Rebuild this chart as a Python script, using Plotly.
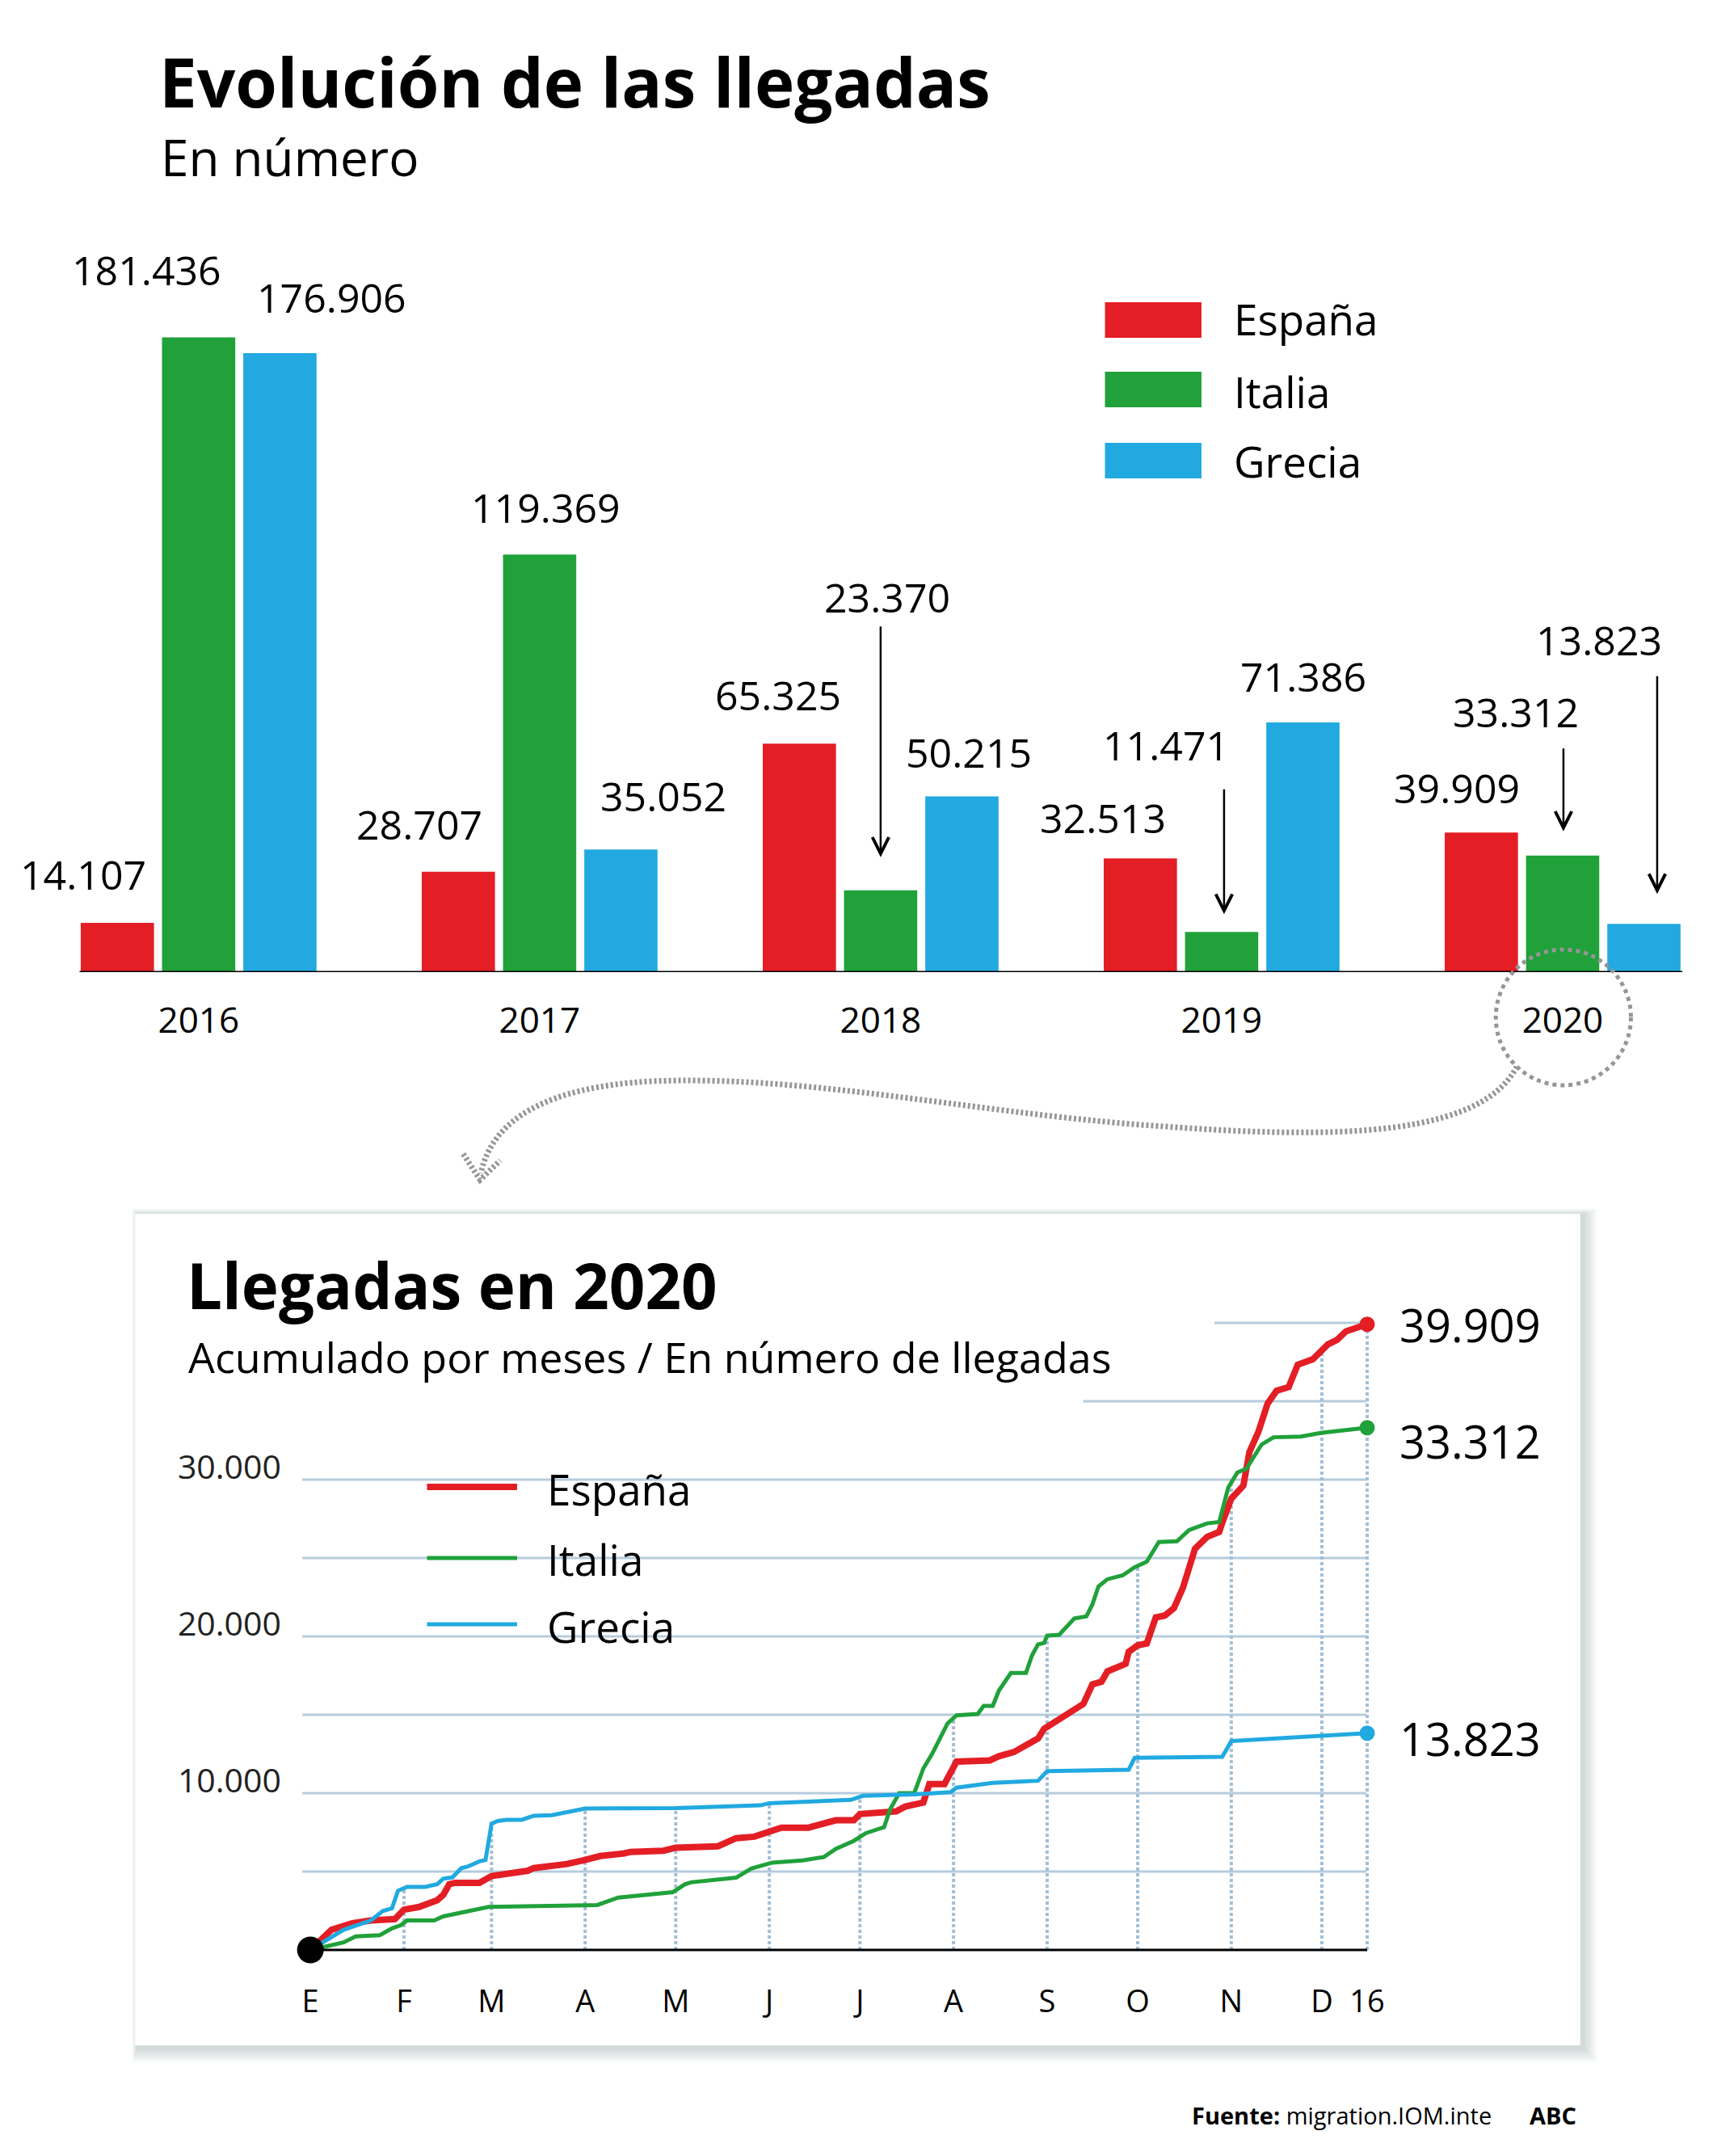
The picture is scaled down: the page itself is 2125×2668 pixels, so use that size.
import plotly.graph_objects as go
import numpy as np
import pandas as pd

W, H = 2125, 2668
FONT = "Open Sans"
ROJO, VERDE, AZUL = "#E41E25", "#20A13A", "#21A9E0"

# ---------------- DATA ----------------
anios = ['2016', '2017', '2018', '2019', '2020']
espana_anual = [14107, 28707, 65325, 32513, 39909]
italia_anual = [181436, 119369, 23370, 11471, 33312]
grecia_anual = [176906, 35052, 50215, 71386, 13823]
paises = ['España', 'Italia', 'Grecia']
colores = [ROJO, VERDE, AZUL]

espana_fechas = ['2020-01-01', '2020-01-08', '2020-01-15', '2020-01-17', '2020-01-21', '2020-01-29',
                 '2020-02-01', '2020-02-06', '2020-02-09', '2020-02-12', '2020-02-14', '2020-02-16',
                 '2020-02-18', '2020-02-26', '2020-03-01', '2020-03-13', '2020-03-15', '2020-03-26',
                 '2020-04-01', '2020-04-06', '2020-04-14', '2020-04-16', '2020-04-27', '2020-05-01',
                 '2020-05-15', '2020-05-21', '2020-05-27', '2020-06-02', '2020-06-05', '2020-06-14',
                 '2020-06-23', '2020-06-29', '2020-07-01', '2020-07-13', '2020-07-16', '2020-07-22',
                 '2020-07-24', '2020-07-29', '2020-07-31', '2020-08-02', '2020-08-13', '2020-08-16',
                 '2020-08-21', '2020-08-25', '2020-08-29', '2020-08-31', '2020-09-08', '2020-09-13',
                 '2020-09-16', '2020-09-19', '2020-09-21', '2020-09-25', '2020-09-27', '2020-09-28',
                 '2020-10-01', '2020-10-04', '2020-10-07', '2020-10-10', '2020-10-13', '2020-10-16',
                 '2020-10-20', '2020-10-24', '2020-10-28', '2020-10-29', '2020-11-01', '2020-11-05',
                 '2020-11-06', '2020-11-07', '2020-11-10', '2020-11-13', '2020-11-16', '2020-11-20',
                 '2020-11-23', '2020-11-28', '2020-12-03', '2020-12-06', '2020-12-09', '2020-12-16']
espana_valores = [0, 1280, 1710, 1800, 1880, 1970,
                  2570, 2740, 2910, 3170, 3510, 4190,
                  4280, 4280, 4710, 5050, 5220, 5480,
                  5740, 5990, 6160, 6250, 6330, 6525,
                  6610, 7130, 7220, 7660, 7800, 7800,
                  8270, 8270, 8670, 8840, 9140, 9400,
                  10580, 10580, 11310, 12010, 12090, 12350,
                  12620, 13050, 13490, 14100, 15130, 15690,
                  16940, 17110, 17770, 18130, 18250, 19010,
                  19430, 19550, 21210, 21330, 21800, 23110,
                  25600, 26350, 26660, 27250, 28790, 29620,
                  30810, 31760, 33060, 34840, 35670, 35900,
                  37330, 37680, 38630, 38910, 39460, 39909]

italia_fechas = ['2020-01-01', '2020-01-12', '2020-01-16', '2020-01-24', '2020-01-28', '2020-01-31',
                 '2020-02-02', '2020-02-11', '2020-02-14', '2020-02-24', '2020-02-29', '2020-04-05',
                 '2020-04-12', '2020-04-30', '2020-05-04', '2020-05-06', '2020-05-21', '2020-05-26',
                 '2020-06-02', '2020-06-12', '2020-06-19', '2020-06-23', '2020-06-29', '2020-07-03',
                 '2020-07-09', '2020-07-11', '2020-07-14', '2020-07-19', '2020-07-22', '2020-07-25',
                 '2020-07-30', '2020-08-02', '2020-08-09', '2020-08-11', '2020-08-14', '2020-08-16',
                 '2020-08-20', '2020-08-25', '2020-08-27', '2020-08-29', '2020-08-31', '2020-09-01',
                 '2020-09-05', '2020-09-10', '2020-09-14', '2020-09-16', '2020-09-18', '2020-09-21',
                 '2020-09-26', '2020-09-30', '2020-10-04', '2020-10-08', '2020-10-14', '2020-10-18',
                 '2020-10-24', '2020-10-28', '2020-10-31', '2020-11-03', '2020-11-06', '2020-11-11',
                 '2020-11-15', '2020-11-24', '2020-12-01', '2020-12-16']
italia_valores = [0, 480, 860, 940, 1370, 1580,
                  1880, 1880, 2140, 2570, 2740, 2860,
                  3340, 3680, 4180, 4310, 4610, 5190,
                  5570, 5710, 5920, 6440, 6960, 7450,
                  7830, 8960, 10000, 10000, 11570, 12530,
                  14440, 14960, 15050, 15570, 15570, 16530,
                  17660, 17660, 18790, 19490, 19580, 20045,
                  20100, 21140, 21280, 22040, 23180, 23650,
                  23890, 24410, 24770, 26020, 26070, 26780,
                  27210, 27300, 29500, 30450, 30690, 32230,
                  32700, 32750, 32990, 33312]

grecia_fechas = ['2020-01-01', '2020-01-08', '2020-01-12', '2020-01-21', '2020-01-25', '2020-01-28',
                 '2020-01-30', '2020-02-02', '2020-02-08', '2020-02-12', '2020-02-14', '2020-02-17',
                 '2020-02-20', '2020-02-22', '2020-02-26', '2020-02-28', '2020-03-01', '2020-03-03',
                 '2020-03-06', '2020-03-11', '2020-03-15', '2020-03-21', '2020-03-27', '2020-04-01',
                 '2020-05-01', '2020-05-29', '2020-06-01', '2020-06-28', '2020-07-02', '2020-07-19',
                 '2020-07-31', '2020-08-02', '2020-08-14', '2020-08-29', '2020-09-01', '2020-09-28',
                 '2020-09-30', '2020-10-29', '2020-11-01', '2020-11-30', '2020-12-03', '2020-12-16']
grecia_valores = [0, 770, 1280, 1880, 2480, 2650,
                  3770, 4020, 4020, 4190, 4540, 4620,
                  5220, 5310, 5650, 5740, 8050, 8220,
                  8300, 8300, 8560, 8590, 8820, 9020,
                  9040, 9220, 9360, 9570, 9830, 9920,
                  10060, 10350, 10650, 10790, 11400, 11490,
                  12250, 12320, 13320, 13630, 13700, 13823]

meses_fechas = ['2020-01-01', '2020-02-01', '2020-03-01', '2020-04-01', '2020-05-01', '2020-06-01',
                '2020-07-01', '2020-08-01', '2020-09-01', '2020-10-01', '2020-11-01', '2020-12-01',
                '2020-12-16']
meses_texto = ['E', 'F', 'M', 'A', 'M', 'J', 'J', 'A', 'S', 'O', 'N', 'D', '16']
ticks_y = [10000, 20000, 30000]
rejilla_y = [5000, 10000, 15000, 20000, 25000, 30000]
rejilla_y_corta = [35000, 40000]


# ---------------- HELPERS ----------------
def fx(x):
    return x / W


def fy(y):
    return 1 - y / H


def fmt(v):
    return f"{v:,}".replace(",", ".")


def dias(fechas):
    return (pd.to_datetime(fechas) - pd.Timestamp('2020-01-01')).days.values.astype(float)


fig = go.Figure()

# ---------------- BAR CHART ----------------
anuales = [espana_anual, italia_anual, grecia_anual]
for nombre, vals, col in zip(paises, anuales, colores):
    fig.add_trace(go.Bar(x=anios, y=vals, name=nombre, marker_color=col,
                         marker_line_width=0, xaxis='x', yaxis='y', showlegend=False))

# ---------------- LINE CHART ----------------
series = [(espana_fechas, espana_valores, ROJO, 8),
          (italia_fechas, italia_valores, VERDE, 5),
          (grecia_fechas, grecia_valores, AZUL, 5)]
for (f, v, col, w), nombre in zip(series, paises):
    fig.add_trace(go.Scatter(x=f, y=v, mode='lines', name=nombre, line=dict(color=col, width=w),
                             xaxis='x2', yaxis='y2', showlegend=False, cliponaxis=False))
for (f, v, col, w) in series:
    fig.add_trace(go.Scatter(x=[f[-1]], y=[v[-1]], mode='markers', marker=dict(color=col, size=19),
                             xaxis='x2', yaxis='y2', showlegend=False, cliponaxis=False))
fig.add_trace(go.Scatter(x=[espana_fechas[0]], y=[0], mode='markers',
                         marker=dict(color='black', size=33), xaxis='x2', yaxis='y2',
                         showlegend=False, cliponaxis=False))

shapes = []
# card shadow + card
for i in range(8, 0, -1):
    shapes.append(dict(type='rect', xref='paper', yref='paper', layer='below',
                       x0=fx(168 - i * 0.8 + 3), x1=fx(1965 + i * 2.2 + 3),
                       y0=fy(2531 + i * 2.2 + 3), y1=fy(1502 - i * 0.9 + 1),
                       line=dict(width=0), fillcolor='rgba(110,135,150,0.045)'))
shapes.append(dict(type='rect', xref='paper', yref='paper', layer='below',
                   x0=fx(168), x1=fx(1965), y0=fy(2531), y1=fy(1502),
                   line=dict(width=0), fillcolor='white'))
# horizontal gridlines
GRID = '#B6CCDD'
for v in rejilla_y:
    shapes.append(dict(type='line', xref='paper', yref='y2', layer='below',
                       x0=fx(376), x1=fx(1699), y0=v, y1=v, line=dict(color=GRID, width=3)))
for v, x0 in zip(rejilla_y_corta, [1347, 1510]):
    shapes.append(dict(type='line', xref='paper', yref='y2', layer='below',
                       x0=fx(x0), x1=fx(1699), y0=v, y1=v, line=dict(color=GRID, width=3)))
# vertical dotted month lines up to highest series
t_mes = dias(meses_fechas)
interp = [np.interp(t_mes, dias(f), v) for f, v, _, _ in series]
techo = np.max(np.vstack(interp), axis=0)
for fecha, top in zip(meses_fechas[1:], techo[1:]):
    shapes.append(dict(type='line', xref='x2', yref='y2', layer='below',
                       x0=fecha, x1=fecha, y0=0, y1=float(top),
                       line=dict(color='#A3BFD6', width=4, dash='4px,3px')))
# line-chart baseline
shapes.append(dict(type='line', xref='x2', yref='y2', layer='above',
                   x0=meses_fechas[0], x1=meses_fechas[-1], y0=0, y1=0,
                   line=dict(color='black', width=3)))
# bar baseline
shapes.append(dict(type='line', xref='paper', yref='y', layer='above',
                   x0=fx(99), x1=fx(2092), y0=0, y1=0, line=dict(color='black', width=3)))
# top legend swatches
for col, yc in zip(colores, [396, 482, 570]):
    shapes.append(dict(type='rect', xref='paper', yref='paper', layer='above',
                       x0=fx(1374), x1=fx(1494), y0=fy(yc + 22), y1=fy(yc - 22),
                       line=dict(width=0), fillcolor=col))
# line legend
for col, yc, w in zip(colores, [1840, 1928, 2010], [8, 5, 5]):
    shapes.append(dict(type='line', xref='paper', yref='paper', layer='above',
                       x0=fx(531), x1=fx(643), y0=fy(yc), y1=fy(yc), line=dict(color=col, width=w)))
# dotted circle around 2020
GRIS = '#969696'
shapes.append(dict(type='circle', xref='paper', yref='paper', layer='above',
                   x0=fx(1860), x1=fx(2028), y0=fy(1343), y1=fy(1175),
                   line=dict(color=GRIS, width=5, dash='5px,5px')))


def ruta(cmds):
    out = []
    for c in cmds:
        if isinstance(c, str):
            out.append(c)
        else:
            out.append(f"{fx(c[0]):.5f},{fy(c[1]):.5f}")
    return " ".join(out)


arco = ruta(['M', (1886, 1320), 'C', (1835, 1420), (1600, 1405), (1420, 1392),
             'C', (1200, 1375), (1000, 1330), (810, 1338),
             'C', (680, 1345), (612, 1385), (598, 1452)])
shapes.append(dict(type='path', xref='paper', yref='paper', layer='above', path=arco,
                   line=dict(color=GRIS, width=7, dash='3px,3px')))
punta = ruta(['M', (576, 1428), 'L', (597, 1460), 'L', (622, 1436)])
shapes.append(dict(type='path', xref='paper', yref='paper', layer='above', path=punta,
                   line=dict(color=GRIS, width=7, dash='3px,3px')))

# ---------------- ANNOTATIONS ----------------
ann = []


def texto(x, y, t, size, weight=400, xanchor='left', color='black'):
    ann.append(dict(xref='paper', yref='paper', x=fx(x), y=fy(y), text=t, showarrow=False,
                    xanchor=xanchor, yanchor='middle',
                    font=dict(family=FONT, size=size, color=color, weight=weight)))


texto(196, 101, "Evolución de las llegadas", 83.5, 700)
texto(198, 194, "En número", 62)
texto(230, 1590, "Llegadas en 2020", 78, 700)
texto(232, 1678, "Acumulado por meses / En número de llegadas", 52)
for nombre, yc in zip(paises, [394, 484, 571]):
    texto(1532, yc, nombre, 53)
for nombre, yc in zip(paises, [1842, 1929, 2012]):
    texto(678, yc, nombre, 53)
texto(1480, 2617, "<b>Fuente:</b> migration.IOM.inte", 29)
texto(1900, 2617, "<b>ABC</b>", 29)

# bar value labels: (dx from bar centre, px above bar top)
desfase_barra = [-101, 0, 101]
posiciones = {
    ('2016', 0): (-42, 60), ('2016', 1): (-64, 83), ('2016', 2): (64, 69),
    ('2017', 0): (-48, 59), ('2017', 1): (8, 58), ('2017', 2): (52, 66),
    ('2018', 0): (-26, 60), ('2018', 1): (8, 363), ('2018', 2): (8, 55),
    ('2019', 0): (-46, 50), ('2019', 1): (-69, 231), ('2019', 2): (0, 57),
    ('2020', 0): (-30, 55), ('2020', 1): (-58, 178), ('2020', 2): (-56, 351),
}
for k, vals in enumerate(anuales):
    for i, (anio, v) in enumerate(zip(anios, vals)):
        dx, up = posiciones[(anio, k)]
        ann.append(dict(xref='x', yref='y', x=i, y=v, text=fmt(v), showarrow=False,
                        xshift=desfase_barra[k] + dx, yshift=up, xanchor='center', yanchor='middle',
                        font=dict(family=FONT, size=50, color='black')))
# arrows: (year, series, xshift, tail above top, standoff)
flechas = [('2018', 1, 0, 328, 41), ('2019', 1, 3, 178, 22), ('2020', 1, 1, 134, 30),
           ('2020', 2, 16, 308, 37)]
for anio, k, xs, cola, sep in flechas:
    i = anios.index(anio)
    v = anuales[k][i]
    ann.append(dict(xref='x', yref='y', x=i, y=v, text='', showarrow=True,
                    ax=0, ay=-cola, xshift=desfase_barra[k] + xs, arrowhead=5, arrowsize=1.6,
                    arrowwidth=2.5, arrowcolor='black', standoff=sep))

# end labels of line chart
for (f, v, col, w), ys in zip(series, [0, -16, -6]):
    ann.append(dict(xref='x2', yref='y2', x=f[-1], y=v[-1], text=fmt(v[-1]), showarrow=False,
                    xanchor='left', yanchor='middle', xshift=38, yshift=ys,
                    font=dict(family=FONT, size=56, color='black')))

# ---------------- LAYOUT ----------------
fig.update_layout(
    width=W, height=H, autosize=False,
    margin=dict(l=0, r=0, t=0, b=0),
    paper_bgcolor='white', plot_bgcolor='rgba(0,0,0,0)',
    separators=',.',
    barmode='group', bargap=0.285, bargroupgap=0.099,
    font=dict(family=FONT, color='black'),
    showlegend=False,
    xaxis=dict(type='category', domain=[0, 1], range=[-0.5825, 4.429], anchor='y',
               showgrid=False, zeroline=False, showline=False, ticks='',
               tickfont=dict(family=FONT, size=44, color='black'), ticklabelstandoff=30,
               fixedrange=True),
    yaxis=dict(domain=[fy(1203), fy(337)], range=[0, 200000], anchor='x',
               showgrid=False, zeroline=False, showline=False, ticks='', showticklabels=False,
               fixedrange=True),
    xaxis2=dict(type='date', domain=[fx(374.7), fx(1711.3)], range=['2019-12-29', '2020-12-19'],
                anchor='y2', showgrid=False, zeroline=False, showline=False, ticks='',
                tickmode='array', tickvals=meses_fechas, ticktext=meses_texto,
                tickfont=dict(family=FONT, size=38, color='black'), ticklabelstandoff=26),
    yaxis2=dict(domain=[fy(2424.6), fy(1598.2)], range=[-600, 42000], anchor='x2',
                showgrid=False, zeroline=False, showline=False, ticks='',
                tickmode='array', tickvals=ticks_y, tickformat=',d',
                tickfont=dict(family=FONT, size=41, color='#222222'),
                ticklabelstandoff=24, ticklabelshift=-15),
    shapes=shapes,
    annotations=ann,
)

fig.write_html(
    "out.html",
    config={'displayModeBar': False},
    post_script=("document.body.style.margin='0px';"
                 "document.body.style.overflow='hidden';"
                 "document.documentElement.style.overflow='hidden';"),
)
